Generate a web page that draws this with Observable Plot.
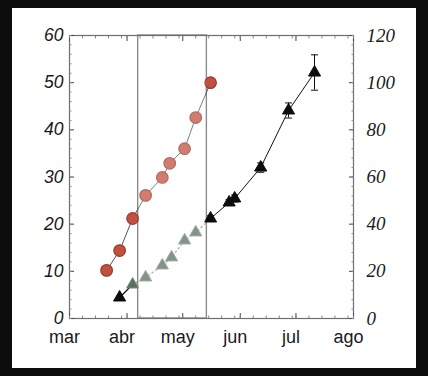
<!DOCTYPE html>
<html><head><meta charset="utf-8">
<script src="https://cdn.jsdelivr.net/npm/d3@7"></script>
<script src="https://cdn.jsdelivr.net/npm/@observablehq/plot@0.6"></script>
<style>
html,body{margin:0;padding:0;background:#0d0d0d;width:428px;height:376px;overflow:hidden;}
#wrap{position:absolute;left:12px;top:8px;width:404px;height:360px;background:#fff;}
#wrap svg{display:block;}
</style></head><body><div id="wrap"></div>
<script>
// month tick labels
const monthLabels = ["mar", "abr", "may", "jun", "jul", "ago"];
const monthStarts = ["2000-03-01", "2000-04-01", "2000-05-01", "2000-06-01", "2000-07-01", "2000-08-01"];

// red circles (left axis)
const circleDates = ["2000-03-21", "2000-03-28", "2000-04-04", "2000-04-11", "2000-04-20", "2000-04-24", "2000-05-02", "2000-05-08", "2000-05-16"];
const circleValues = [10.2, 14.4, 21.2, 26.1, 29.9, 32.9, 36.0, 42.6, 50.0];

// triangles (right axis)
const triangleDates = ["2000-03-28", "2000-04-04", "2000-04-11", "2000-04-20", "2000-04-25", "2000-05-02", "2000-05-08", "2000-05-16", "2000-05-26", "2000-05-29", "2000-06-12", "2000-06-27", "2000-07-11"];
const triangleValues = [8.9, 14.4, 17.4, 22.5, 25.9, 33.1, 36.5, 42.4, 49.2, 50.9, 64.0, 88.2, 104.3];
const triangleErr = [0, 0, 0, 0, 0, 0, 0, 1.2, 1.2, 1.5, 2.0, 3.2, 7.5];

// highlighted period (grey box)
const boxStart = "2000-04-07";
const boxEnd = "2000-05-14";

const leftTicks = [0, 10, 20, 30, 40, 50, 60];
const rightTicks = [0, 20, 40, 60, 80, 100, 120];

const P = d => new Date(d + "T00:00:00Z");
const circles = circleDates.map((d, i) => ({date: P(d), v: circleValues[i]}));
const tris = triangleDates.map((d, i) => ({date: P(d), v: triangleValues[i], e: triangleErr[i], i}));
const ticksM = monthStarts.map(P);
const labels = new Map(ticksM.map((d, i) => [+d, monthLabels[i]]));
const rightLabel = new Map(leftTicks.map((d, i) => [d, String(rightTicks[i])]));
const minorX = d3.utcDay.range(P("2000-03-01"), P("2000-08-02"), 1).filter(d => d.getUTCDate() % 7 === 1 || d.getUTCDate() === 15);
const minorY = d3.range(0, 61, 2);

const greenIdx = i => i >= 1 && i <= 6;
const solidA = tris.filter(d => d.i <= 1);
const dotted = tris.filter(d => d.i >= 1 && d.i <= 7);
const solidB = tris.filter(d => d.i >= 7);
const errs = tris.filter(d => d.e > 0);

const capSymbol = {draw(ctx, size) { const r = Math.sqrt(size / Math.PI); ctx.moveTo(-r, 0); ctx.lineTo(r, 0); }};
const W = 404, H = 360, mL = 57, mR = 63, mT = 27, mB = 50;
const lab = {label: null};

const chart = Plot.plot({
  width: W, height: H,
  marginLeft: mL, marginRight: mR, marginTop: mT, marginBottom: mB,
  style: {background: "transparent", overflow: "visible"},
  x: {type: "utc", domain: [P("2000-03-01"), P("2000-08-01")], axis: null, label: null},
  y: {domain: [0, 60], axis: null, label: null},
  marks: [
    // highlighted box
    Plot.rect([0], {x1: () => P(boxStart), x2: () => P(boxEnd), y1: 0, y2: 60, fill: "none", stroke: "#8a8a8a", strokeWidth: 1.4}),
    // circle series
    Plot.line(circles, {x: "date", y: "v", stroke: "#4a5560", strokeWidth: 1}),
    // triangle series
    Plot.line(solidA, {x: "date", y: d => d.v / 2, stroke: "#111", strokeWidth: 1.2}),
    Plot.line(dotted, {x: "date", y: d => d.v / 2, stroke: "#8a9a8c", strokeWidth: 1.3, strokeDasharray: "1.5,3"}),
    Plot.line(solidB, {x: "date", y: d => d.v / 2, stroke: "#111", strokeWidth: 1}),
    Plot.ruleX(errs, {x: "date", y1: d => (d.v - d.e) / 2, y2: d => (d.v + d.e) / 2, stroke: "#111", strokeWidth: 1}),
    Plot.dot(errs, {x: "date", y: d => (d.v - d.e) / 2, symbol: capSymbol, r: 3.5, stroke: "#111", strokeWidth: 1}),
    Plot.dot(errs, {x: "date", y: d => (d.v + d.e) / 2, symbol: capSymbol, r: 3.5, stroke: "#111", strokeWidth: 1}),
    Plot.dot(tris, {x: "date", y: d => d.v / 2, symbol: "triangle", r: 4.5, fill: d => greenIdx(d.i) ? "#5b6e5f" : "#0d0d0d", stroke: d => greenIdx(d.i) ? "#7b907e" : "#0d0d0d", strokeWidth: 1}),
    Plot.dot(circles, {x: "date", y: "v", r: 5.8, fill: "#c0503f", stroke: "#9a3a2e", strokeWidth: 1.2}),
    // slight fade inside the box
    Plot.rect([0], {x1: () => P(boxStart), x2: () => P(boxEnd), y1: 0, y2: 60, fill: "#fff", fillOpacity: 0.25, inset: 1}),
    Plot.frame({stroke: "#6e6e6e", strokeWidth: 1.2}),
    // inward ticks
    Plot.axisY({...lab, anchor: "left", ticks: leftTicks, tickSize: 5, dx: 5, tickFormat: () => "", stroke: "#444"}),
    Plot.axisY({...lab, anchor: "left", ticks: minorY, tickSize: 2.5, dx: 2.5, tickFormat: () => "", stroke: "#888"}),
    Plot.axisY({...lab, anchor: "right", ticks: leftTicks, tickSize: 5, dx: -5, tickFormat: () => "", stroke: "#444"}),
    Plot.axisY({...lab, anchor: "right", ticks: minorY, tickSize: 2.5, dx: -2.5, tickFormat: () => "", stroke: "#888"}),
    Plot.axisX({...lab, anchor: "bottom", ticks: ticksM, tickSize: 5, dy: -5, tickFormat: () => "", stroke: "#444"}),
    Plot.axisX({...lab, anchor: "bottom", ticks: minorX, tickSize: 2.5, dy: -2.5, tickFormat: () => "", stroke: "#888"}),
    Plot.axisX({...lab, anchor: "top", ticks: ticksM, tickSize: 5, dy: 5, tickFormat: () => "", stroke: "#444"}),
    Plot.axisX({...lab, anchor: "top", ticks: minorX, tickSize: 2.5, dy: 2.5, tickFormat: () => "", stroke: "#888"}),
    // tick labels
    Plot.axisY({...lab, anchor: "left", ticks: leftTicks, tickSize: 0, tickPadding: 6, fontSize: 17.5, fontFamily: "Liberation Sans, Arial, sans-serif", fontStyle: "italic", fill: "#1a1a1a"}),
    Plot.axisY({...lab, anchor: "right", ticks: leftTicks, tickSize: 0, tickPadding: 13, tickFormat: d => rightLabel.get(d), fontSize: 19, fontFamily: "Liberation Serif, Times New Roman, serif", fontStyle: "italic", fill: "#1a1a1a"}),
    Plot.axisX({...lab, anchor: "bottom", ticks: ticksM, tickSize: 0, tickPadding: 12, dx: -5, tickFormat: d => labels.get(+d), fontSize: 18, fontFamily: "Liberation Sans, Arial, sans-serif", fill: "#1a1a1a"})
  ]
});
document.getElementById("wrap").appendChild(chart);
</script></body></html>
